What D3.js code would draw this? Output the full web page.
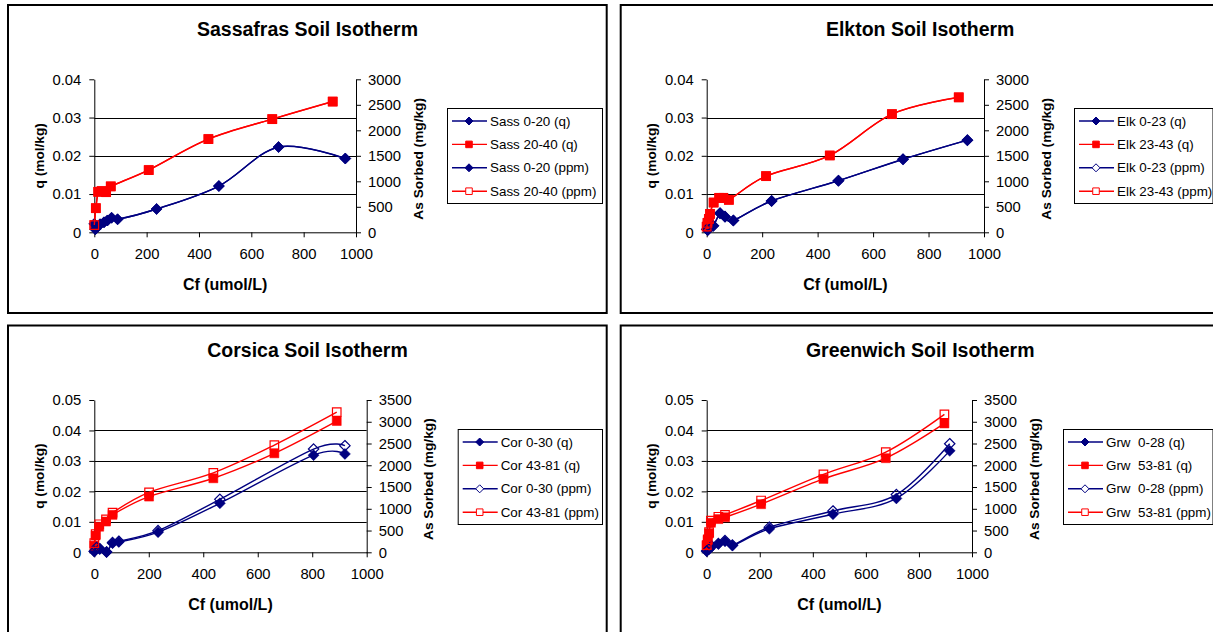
<!DOCTYPE html>
<html>
<head>
<meta charset="utf-8">
<script src="https://cdn.jsdelivr.net/npm/d3@7/dist/d3.min.js"></script>
<style>
  body { margin: 0; background: #fff; }
  svg { font-family: "Liberation Sans", Arial, sans-serif; }
</style>
</head>
<body>
<div id="chart"></div>
<script>
// ---- data ----
// Sassafras
const sassCfA  = [0, 4, 12, 22, 37, 50, 66, 89, 238, 476, 704, 959];
const sassQA   = [0.0022, 0.0008, 0.0015, 0.0021, 0.0026, 0.0031, 0.0038, 0.0034, 0.0061, 0.0121, 0.0223, 0.0193];
const sassPpmA = [165, 60, 112, 157, 195, 232, 285, 255, 457, 907, 1671, 1446];
const sassCfB  = [0, 6, 15, 28, 45, 63, 208, 436, 680, 911];
const sassQB   = [0.0019, 0.0063, 0.0106, 0.0108, 0.0105, 0.0120, 0.0163, 0.0244, 0.0296, 0.0342];
const sassPpmB = [142, 472, 794, 809, 787, 899, 1221, 1828, 2218, 2562];

// Elkton
const elkCfA  = [1, 4, 24, 48, 66, 96, 234, 475, 708, 940];
const elkQA   = [0.0008, 0.0006, 0.0017, 0.0050, 0.0041, 0.0031, 0.0082, 0.0135, 0.0191, 0.0241];
const elkPpmA = [60, 45, 127, 375, 307, 232, 614, 1011, 1431, 1806];
const elkCfB  = [0, 3, 8, 12, 25, 45, 60, 80, 214, 444, 668, 909];
const elkQB   = [0.0015, 0.0025, 0.0035, 0.0048, 0.0078, 0.0090, 0.0090, 0.0085, 0.0147, 0.0201, 0.0309, 0.0353];
const elkPpmB = [112, 187, 262, 360, 584, 674, 674, 637, 1101, 1506, 2315, 2645];

// Corsica
const corCfA  = [0, 8, 20, 45, 67, 90, 234, 461, 805, 920];
const corQA   = [0.0003, 0.0015, 0.0011, 0.0001, 0.0030, 0.0034, 0.0066, 0.0161, 0.0319, 0.0323];
const corPpmA = [22, 112, 82, 7, 225, 255, 497, 1218, 2373, 2450];
const corCfB  = [0, 5, 18, 43, 67, 201, 437, 661, 890];
const corQB   = [0.0022, 0.0055, 0.0084, 0.0101, 0.0123, 0.0183, 0.0243, 0.0325, 0.0431];
const corPpmB = [210, 420, 644, 756, 910, 1379, 1827, 2464, 3220];

// Greenwich
const grwCfA  = [0, 8, 19, 44, 69, 97, 236, 476, 715, 916];
const grwQA   = [0.0004, 0.0010, 0.0019, 0.0027, 0.0036, 0.0022, 0.0077, 0.0125, 0.0177, 0.0333];
const grwPpmA = [30, 75, 142, 202, 270, 165, 577, 950, 1326, 2495];
const grwCfB  = [0, 4, 9, 16, 44, 69, 205, 440, 675, 896];
const grwQB   = [0.0022, 0.0040, 0.0062, 0.0097, 0.0109, 0.0115, 0.0158, 0.0241, 0.0309, 0.0423];
const grwPpmB = [165, 300, 465, 727, 817, 862, 1190, 1792, 2303, 3171];

const cfTicks   = [0, 200, 400, 600, 800, 1000];
const qTicks4   = [0, 0.01, 0.02, 0.03, 0.04];
const qTicks5   = [0, 0.01, 0.02, 0.03, 0.04, 0.05];
const ppmTicks3 = [0, 500, 1000, 1500, 2000, 2500, 3000];
const ppmTicks35 = [0, 500, 1000, 1500, 2000, 2500, 3000, 3500];

const NAVY = '#000080', RED = '#ff0000';

function makeSeries(names, cfA, qA, ppmA, cfB, qB, ppmB, ppmAFilled) {
    return [
        {name: names[0], x: cfA, y: qA, axis: 'q', color: NAVY, marker: 'diamond', filled: true},
        {name: names[1], x: cfB, y: qB, axis: 'q', color: RED, marker: 'square', filled: true},
        {name: names[2], x: cfA, y: ppmA, axis: 'ppm', color: NAVY, marker: 'diamond', filled: ppmAFilled},
        {name: names[3], x: cfB, y: ppmB, axis: 'ppm', color: RED, marker: 'square', filled: false}
    ];
}

const panels = [
    {title: 'Sassafras Soil Isotherm', box: [8, 5], plot: [94.3, 356, 79.3, 232.3],
     qTicks: qTicks4, ppmTicks: ppmTicks3, legend: [447, 108, 155],
     series: makeSeries(['Sass 0-20 (q)', 'Sass 20-40 (q)', 'Sass 0-20 (ppm)', 'Sass 20-40 (ppm)'],
        sassCfA, sassQA, sassPpmA, sassCfB, sassQB, sassPpmB, true)},
    {title: 'Elkton Soil Isotherm', box: [620.7, 5], plot: [706.7, 984, 79.3, 232.3],
     qTicks: qTicks4, ppmTicks: ppmTicks3, legend: [1074, 108, 138.5],
     series: makeSeries(['Elk 0-23 (q)', 'Elk 23-43 (q)', 'Elk 0-23 (ppm)', 'Elk 23-43 (ppm)'],
        elkCfA, elkQA, elkPpmA, elkCfB, elkQB, elkPpmB, false)},
    {title: 'Corsica Soil Isotherm', box: [8, 325.5], plot: [94.3, 366.7, 400, 552.3],
     qTicks: qTicks5, ppmTicks: ppmTicks35, legend: [457.7, 429, 144.3],
     series: makeSeries(['Cor 0-30 (q)', 'Cor 43-81 (q)', 'Cor 0-30 (ppm)', 'Cor 43-81 (ppm)'],
        corCfA, corQA, corPpmA, corCfB, corQB, corPpmB, false)},
    {title: 'Greenwich Soil Isotherm', box: [620.7, 325.5], plot: [706.7, 972, 400, 552.3],
     qTicks: qTicks5, ppmTicks: ppmTicks35, legend: [1063, 429, 149.5],
     series: makeSeries(['Grw  0-28 (q)', 'Grw  53-81 (q)', 'Grw  0-28 (ppm)', 'Grw  53-81 (ppm)'],
        grwCfA, grwQA, grwPpmA, grwCfB, grwQB, grwPpmB, false)}
];

const W = 1213, H = 632;

const svg = d3.select('#chart').append('svg')
    .attr('width', W)
    .attr('height', H);

function markerPath(type, r) {
    if (type === 'diamond') return `M0,${-r}L${r},0L0,${r}L${-r},0Z`;
    const s = r * 0.82;
    return `M${-s},${-s}H${s}V${s}H${-s}Z`;
}

panels.forEach(p => {
    const [px0, px1, py0, py1] = p.plot;   // left, right, top, bottom
    const g = svg.append('g');

    // outer frame
    g.append('rect')
        .attr('x', p.box[0]).attr('y', p.box[1])
        .attr('width', 598.7).attr('height', 308)
        .attr('fill', 'none')
        .attr('stroke', '#000')
        .attr('stroke-width', 2);

    g.append('text')
        .text(p.title)
        .attr('x', p.box[0] + 299.5)
        .attr('y', p.box[1] + 31)
        .attr('text-anchor', 'middle')
        .attr('font-size', '19.5px')
        .attr('font-weight', 'bold');

    const x = d3.scaleLinear().domain([0, 1000]).range([px0, px1]);
    const yq = d3.scaleLinear().domain([0, d3.max(p.qTicks)]).range([py1, py0]);
    const yp = d3.scaleLinear().domain([0, d3.max(p.ppmTicks)]).range([py1, py0]);

    // gridlines (not at the top)
    g.append('g')
        .selectAll('line')
        .data(p.qTicks.slice(1, -1))
        .enter()
        .append('line')
        .attr('x1', px0).attr('x2', px1)
        .attr('y1', d => Math.round(yq(d)) + 0.5)
        .attr('y2', d => Math.round(yq(d)) + 0.5)
        .attr('stroke', '#000')
        .attr('stroke-width', 1);

    const styleAxis = sel => {
        sel.select('.domain').attr('stroke', '#000');
        sel.selectAll('.tick line').attr('stroke', '#000');
        sel.selectAll('.tick text')
            .attr('font-size', '14.8px')
            .attr('font-family', '"Liberation Sans", Arial, sans-serif')
            .attr('fill', '#000');
    };

    g.append('g')
        .attr('transform', `translate(0,${py1})`)
        .call(d3.axisBottom(x).tickValues(cfTicks).tickFormat(d3.format('d')).tickSize(5).tickPadding(11).tickSizeOuter(0))
        .call(styleAxis);

    g.append('g')
        .attr('transform', `translate(${px0},0)`)
        .call(d3.axisLeft(yq).tickValues(p.qTicks).tickFormat(d3.format('~g')).tickSize(5).tickPadding(8).tickSizeOuter(0))
        .call(styleAxis);

    g.append('g')
        .attr('transform', `translate(${px1},0)`)
        .call(d3.axisRight(yp).tickValues(p.ppmTicks).tickFormat(d3.format('d')).tickSize(5).tickPadding(7).tickSizeOuter(0))
        .call(styleAxis);

    // axis titles
    g.append('text')
        .text('Cf (umol/L)')
        .attr('x', (px0 + px1) / 2)
        .attr('y', py1 + 57.5)
        .attr('text-anchor', 'middle')
        .attr('font-size', '16px')
        .attr('font-weight', 'bold');

    g.append('text')
        .text('q (mol/kg)')
        .attr('transform', `translate(${px0 - 55},${(py0 + py1) / 2}) rotate(-90)`)
        .attr('text-anchor', 'middle')
        .attr('dominant-baseline', 'central')
        .attr('font-size', '13.7px')
        .attr('font-weight', 'bold');

    g.append('text')
        .text('As Sorbed (mg/kg)')
        .attr('transform', `translate(${px1 + 62},${(py0 + py1) / 2 + 3}) rotate(-90)`)
        .attr('text-anchor', 'middle')
        .attr('dominant-baseline', 'central')
        .attr('font-size', '13.7px')
        .attr('font-weight', 'bold');

    // series
    p.series.forEach(s => {
        const ys = s.axis === 'q' ? yq : yp;
        const pts = s.x.map((v, i) => [x(v), ys(s.y[i])]);
        const line = d3.line().curve(d3.curveCardinal.tension(0));

        g.append('path')
            .attr('d', line(pts))
            .attr('fill', 'none')
            .attr('stroke', s.color)
            .attr('stroke-width', 1.4);

        g.append('g')
            .selectAll('path')
            .data(pts)
            .enter()
            .append('path')
            .attr('transform', d => `translate(${d[0]},${d[1]})`)
            .attr('d', markerPath(s.marker, s.filled ? 5.5 : 5.2))
            .attr('fill', s.filled ? s.color : 'none')
            .attr('stroke', s.color)
            .attr('stroke-width', s.filled ? 0.5 : 1.2);
    });

    // legend
    const [lx, ly, lw] = p.legend;
    const leg = g.append('g');
    leg.append('rect')
        .attr('x', lx + 0.5).attr('y', ly + 0.5)
        .attr('width', lw).attr('height', 95)
        .attr('fill', '#fff')
        .attr('stroke', '#000')
        .attr('stroke-width', 1);

    p.series.forEach((s, i) => {
        const yy = ly + 13 + i * 23.4;
        leg.append('line')
            .attr('x1', lx + 5).attr('x2', lx + 40)
            .attr('y1', yy).attr('y2', yy)
            .attr('stroke', s.color)
            .attr('stroke-width', 1.4);
        leg.append('path')
            .attr('transform', `translate(${lx + 22},${yy})`)
            .attr('d', markerPath(s.marker, 4))
            .attr('fill', s.filled ? s.color : '#fff')
            .attr('stroke', s.color)
            .attr('stroke-width', 1);
        leg.append('text')
            .text(s.name)
            .attr('x', lx + 43)
            .attr('y', yy)
            .attr('dy', '0.35em')
            .attr('font-size', '13.4px')
            .style('white-space', 'pre');
    });
});
</script>
</body>
</html>
